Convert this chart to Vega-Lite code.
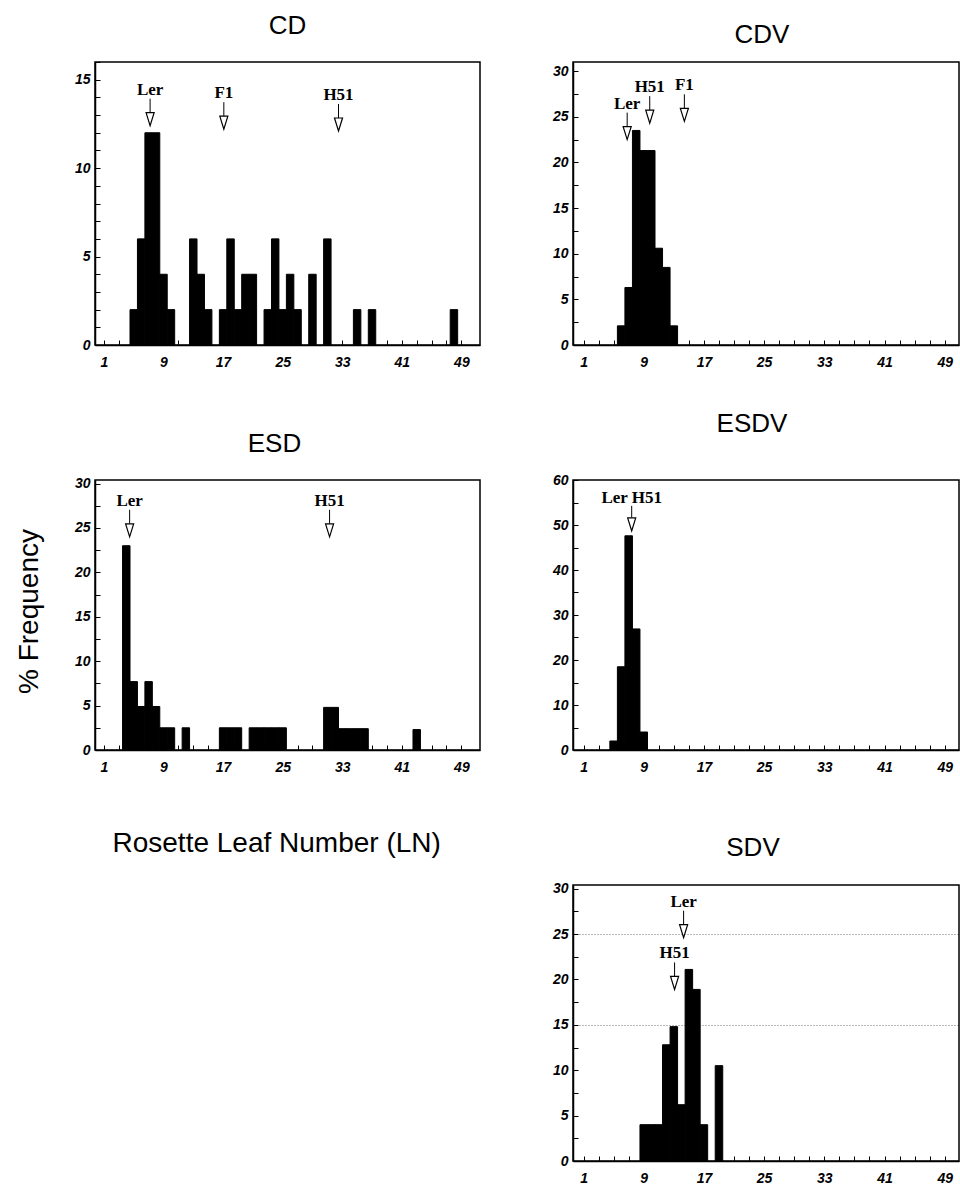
{
  "$schema": "https://vega.github.io/schema/vega-lite/v6.json",
  "padding": {"left": 14, "top": 12, "right": 0, "bottom": 0},
  "background": "white",
  "datasets": {
    "bars": [
      {"panel": "CD", "ln": 4.5, "ln_to": 5.5, "pct": 2},
      {"panel": "CD", "ln": 5.5, "ln_to": 6.5, "pct": 6},
      {"panel": "CD", "ln": 6.5, "ln_to": 7.5, "pct": 12},
      {"panel": "CD", "ln": 7.5, "ln_to": 8.5, "pct": 12},
      {"panel": "CD", "ln": 8.5, "ln_to": 9.5, "pct": 4},
      {"panel": "CD", "ln": 9.5, "ln_to": 10.5, "pct": 2},
      {"panel": "CD", "ln": 12.5, "ln_to": 13.5, "pct": 6},
      {"panel": "CD", "ln": 13.5, "ln_to": 14.5, "pct": 4},
      {"panel": "CD", "ln": 14.5, "ln_to": 15.5, "pct": 2},
      {"panel": "CD", "ln": 16.5, "ln_to": 17.5, "pct": 2},
      {"panel": "CD", "ln": 17.5, "ln_to": 18.5, "pct": 6},
      {"panel": "CD", "ln": 18.5, "ln_to": 19.5, "pct": 2},
      {"panel": "CD", "ln": 19.5, "ln_to": 20.5, "pct": 4},
      {"panel": "CD", "ln": 20.5, "ln_to": 21.5, "pct": 4},
      {"panel": "CD", "ln": 22.5, "ln_to": 23.5, "pct": 2},
      {"panel": "CD", "ln": 23.5, "ln_to": 24.5, "pct": 6},
      {"panel": "CD", "ln": 24.5, "ln_to": 25.5, "pct": 2},
      {"panel": "CD", "ln": 25.5, "ln_to": 26.5, "pct": 4},
      {"panel": "CD", "ln": 26.5, "ln_to": 27.5, "pct": 2},
      {"panel": "CD", "ln": 28.5, "ln_to": 29.5, "pct": 4},
      {"panel": "CD", "ln": 30.5, "ln_to": 31.5, "pct": 6},
      {"panel": "CD", "ln": 34.5, "ln_to": 35.5, "pct": 2},
      {"panel": "CD", "ln": 36.5, "ln_to": 37.5, "pct": 2},
      {"panel": "CD", "ln": 47.5, "ln_to": 48.5, "pct": 2},
      {"panel": "CDV", "ln": 5.5, "ln_to": 6.5, "pct": 2.1},
      {"panel": "CDV", "ln": 6.5, "ln_to": 7.5, "pct": 6.3},
      {"panel": "CDV", "ln": 7.5, "ln_to": 8.5, "pct": 23.5},
      {"panel": "CDV", "ln": 8.5, "ln_to": 9.5, "pct": 21.3},
      {"panel": "CDV", "ln": 9.5, "ln_to": 10.5, "pct": 21.3},
      {"panel": "CDV", "ln": 10.5, "ln_to": 11.5, "pct": 10.6},
      {"panel": "CDV", "ln": 11.5, "ln_to": 12.5, "pct": 8.5},
      {"panel": "CDV", "ln": 12.5, "ln_to": 13.5, "pct": 2.1},
      {"panel": "ESD", "ln": 3.5, "ln_to": 4.5, "pct": 23},
      {"panel": "ESD", "ln": 4.5, "ln_to": 5.5, "pct": 7.7},
      {"panel": "ESD", "ln": 5.5, "ln_to": 6.5, "pct": 4.9},
      {"panel": "ESD", "ln": 6.5, "ln_to": 7.5, "pct": 7.7},
      {"panel": "ESD", "ln": 7.5, "ln_to": 8.5, "pct": 4.9},
      {"panel": "ESD", "ln": 8.5, "ln_to": 9.5, "pct": 2.5},
      {"panel": "ESD", "ln": 9.5, "ln_to": 10.5, "pct": 2.5},
      {"panel": "ESD", "ln": 11.5, "ln_to": 12.5, "pct": 2.5},
      {"panel": "ESD", "ln": 16.5, "ln_to": 17.5, "pct": 2.5},
      {"panel": "ESD", "ln": 17.5, "ln_to": 18.5, "pct": 2.5},
      {"panel": "ESD", "ln": 18.5, "ln_to": 19.5, "pct": 2.5},
      {"panel": "ESD", "ln": 20.5, "ln_to": 21.5, "pct": 2.5},
      {"panel": "ESD", "ln": 21.5, "ln_to": 22.5, "pct": 2.5},
      {"panel": "ESD", "ln": 22.5, "ln_to": 23.5, "pct": 2.5},
      {"panel": "ESD", "ln": 23.5, "ln_to": 24.5, "pct": 2.5},
      {"panel": "ESD", "ln": 24.5, "ln_to": 25.5, "pct": 2.5},
      {"panel": "ESD", "ln": 30.5, "ln_to": 31.5, "pct": 4.8},
      {"panel": "ESD", "ln": 31.5, "ln_to": 32.5, "pct": 4.8},
      {"panel": "ESD", "ln": 32.5, "ln_to": 33.5, "pct": 2.4},
      {"panel": "ESD", "ln": 33.5, "ln_to": 34.5, "pct": 2.4},
      {"panel": "ESD", "ln": 34.5, "ln_to": 35.5, "pct": 2.4},
      {"panel": "ESD", "ln": 35.5, "ln_to": 36.5, "pct": 2.4},
      {"panel": "ESD", "ln": 42.5, "ln_to": 43.5, "pct": 2.3},
      {"panel": "ESDV", "ln": 4.5, "ln_to": 5.5, "pct": 2},
      {"panel": "ESDV", "ln": 5.5, "ln_to": 6.5, "pct": 18.5},
      {"panel": "ESDV", "ln": 6.5, "ln_to": 7.5, "pct": 47.6},
      {"panel": "ESDV", "ln": 7.5, "ln_to": 8.5, "pct": 26.9},
      {"panel": "ESDV", "ln": 8.5, "ln_to": 9.5, "pct": 4},
      {"panel": "SDV", "ln": 8.5, "ln_to": 9.5, "pct": 4},
      {"panel": "SDV", "ln": 9.5, "ln_to": 10.5, "pct": 4},
      {"panel": "SDV", "ln": 10.5, "ln_to": 11.5, "pct": 4},
      {"panel": "SDV", "ln": 11.5, "ln_to": 12.5, "pct": 12.8},
      {"panel": "SDV", "ln": 12.5, "ln_to": 13.5, "pct": 14.8},
      {"panel": "SDV", "ln": 13.5, "ln_to": 14.5, "pct": 6.2},
      {"panel": "SDV", "ln": 14.5, "ln_to": 15.5, "pct": 21.1},
      {"panel": "SDV", "ln": 15.5, "ln_to": 16.5, "pct": 18.9},
      {"panel": "SDV", "ln": 16.5, "ln_to": 17.5, "pct": 4},
      {"panel": "SDV", "ln": 18.5, "ln_to": 19.5, "pct": 10.5}
    ],
    "arrows": [
      {"panel": "CD", "label": "Ler", "ln": 7.2, "pct": 12.4},
      {"panel": "CD", "label": "F1", "ln": 17.1, "pct": 12.2},
      {"panel": "CD", "label": "H51", "ln": 32.5, "pct": 12.1},
      {"panel": "CDV", "label": "Ler", "ln": 6.8, "pct": 22.5},
      {"panel": "CDV", "label": "H51", "ln": 9.8, "pct": 24.3},
      {"panel": "CDV", "label": "F1", "ln": 14.4, "pct": 24.5},
      {"panel": "ESD", "label": "Ler", "ln": 4.45, "pct": 24},
      {"panel": "ESD", "label": "H51", "ln": 31.3, "pct": 24},
      {"panel": "ESDV", "label": "Ler H51", "ln": 7.4, "pct": 48.7},
      {"panel": "SDV", "label": "Ler", "ln": 14.3, "pct": 24.6},
      {"panel": "SDV", "label": "H51", "ln": 13.1, "pct": 18.9}
    ]
  },
  "columns": 2,
  "bounds": "flush",
  "align": "each",
  "spacing": {"row": 135, "column": 93},
  "concat": [
    {
      "width": 385, "height": 283,
      "title": {"text": "CD", "offset": 16, "dx": 0},
      "encoding": {
        "x": {"field": "ln", "type": "quantitative", "scale": {"domain": [-0.2, 51.5], "nice": false, "zero": false},
              "axis": {"title": null, "values": [1,3,5,7,9,11,13,15,17,19,21,23,25,27,29,31,33,35,37,39,41,43,45,47,49], "labelExpr": "(datum.value - 1) % 8 === 0 ? datum.label : ''"}},
        "y": {"field": "pct", "type": "quantitative", "scale": {"domain": [0, 16], "nice": false},
              "axis": {"title": null, "values": [0,1,2,3,4,5,6,7,8,9,10,11,12,13,14,15,16], "labelExpr": "datum.value % 5 === 0 ? datum.label : ''"}}
      },
      "layer": [
        {
          "data": {"name": "bars"},
          "transform": [{"filter": "datum.panel === 'CD'"}],
          "mark": {"type": "bar", "color": "black", "stroke": "black", "strokeWidth": 1},
          "encoding": {"x2": {"field": "ln_to"}, "y2": {"datum": 0}}
        },
        {
          "data": {"name": "arrows"},
          "transform": [{"filter": "datum.panel === 'CD'"}],
          "mark": {"type": "rule", "color": "black", "strokeWidth": 1, "yOffset": -13, "y2Offset": -27},
          "encoding": {"y2": {"field": "pct"}}
        },
        {
          "data": {"name": "arrows"},
          "transform": [{"filter": "datum.panel === 'CD'"}],
          "mark": {"type": "point", "shape": "M-0.62,-1L0.62,-1L0,1Z", "size": 169, "filled": true, "fill": "white", "stroke": "black", "strokeWidth": 1.2, "opacity": 1, "yOffset": -6.5},
          "encoding": {}
        },
        {
          "data": {"name": "arrows"},
          "transform": [{"filter": "datum.panel === 'CD'"}],
          "mark": {"type": "text", "font": "Liberation Serif", "fontSize": 17, "fontWeight": "bold", "color": "black", "baseline": "alphabetic", "align": "center", "yOffset": -31},
          "encoding": {"text": {"field": "label"}}
        }
      ]
    },
    {
      "width": 386, "height": 283,
      "title": {"text": "CDV", "offset": 14, "dx": -4},
      "encoding": {
        "x": {"field": "ln", "type": "quantitative", "scale": {"domain": [-0.4, 50.9], "nice": false, "zero": false},
              "axis": {"title": null, "values": [1,3,5,7,9,11,13,15,17,19,21,23,25,27,29,31,33,35,37,39,41,43,45,47,49], "labelExpr": "(datum.value - 1) % 8 === 0 ? datum.label : ''"}},
        "y": {"field": "pct", "type": "quantitative", "scale": {"domain": [0, 31], "nice": false},
              "axis": {"title": null, "values": [0,2.5,5,7.5,10,12.5,15,17.5,20,22.5,25,27.5,30], "labelExpr": "datum.value % 5 === 0 ? datum.label : ''"}}
      },
      "layer": [
        {
          "data": {"name": "bars"},
          "transform": [{"filter": "datum.panel === 'CDV'"}],
          "mark": {"type": "bar", "color": "black", "stroke": "black", "strokeWidth": 1},
          "encoding": {"x2": {"field": "ln_to"}, "y2": {"datum": 0}}
        },
        {
          "data": {"name": "arrows"},
          "transform": [{"filter": "datum.panel === 'CDV'"}],
          "mark": {"type": "rule", "color": "black", "strokeWidth": 1, "yOffset": -13, "y2Offset": -27},
          "encoding": {"y2": {"field": "pct"}}
        },
        {
          "data": {"name": "arrows"},
          "transform": [{"filter": "datum.panel === 'CDV'"}],
          "mark": {"type": "point", "shape": "M-0.62,-1L0.62,-1L0,1Z", "size": 169, "filled": true, "fill": "white", "stroke": "black", "strokeWidth": 1.2, "opacity": 1, "yOffset": -6.5},
          "encoding": {}
        },
        {
          "data": {"name": "arrows"},
          "transform": [{"filter": "datum.panel === 'CDV'"}],
          "mark": {"type": "text", "font": "Liberation Serif", "fontSize": 17, "fontWeight": "bold", "color": "black", "baseline": "alphabetic", "align": "center", "yOffset": -31},
          "encoding": {"text": {"field": "label"}}
        }
      ]
    },
    {
      "width": 385, "height": 270,
      "title": {"text": "ESD", "offset": 20, "dx": -13},
      "encoding": {
        "x": {"field": "ln", "type": "quantitative", "scale": {"domain": [-0.2, 51.5], "nice": false, "zero": false},
              "axis": {"title": "Rosette Leaf Number (LN)", "titleFont": "Liberation Sans", "titleFontSize": 28, "titleFontWeight": "normal", "titleColor": "black", "titleAlign": "left", "titleAnchor": "start", "titleBaseline": "alphabetic", "titleX": 17, "titleY": 101,
                       "values": [1,3,5,7,9,11,13,15,17,19,21,23,25,27,29,31,33,35,37,39,41,43,45,47,49], "labelExpr": "(datum.value - 1) % 8 === 0 ? datum.label : ''"}},
        "y": {"field": "pct", "type": "quantitative", "scale": {"domain": [0, 30.4], "nice": false},
              "axis": {"title": "% Frequency", "titleFont": "Liberation Sans", "titleFontSize": 28, "titleFontWeight": "normal", "titleColor": "black", "titleAngle": -90, "titleAlign": "center", "titleBaseline": "alphabetic", "titleX": -58, "titleY": 131,
                       "values": [0,2.5,5,7.5,10,12.5,15,17.5,20,22.5,25,27.5,30], "labelExpr": "datum.value % 5 === 0 ? datum.label : ''"}}
      },
      "layer": [
        {
          "data": {"name": "bars"},
          "transform": [{"filter": "datum.panel === 'ESD'"}],
          "mark": {"type": "bar", "color": "black", "stroke": "black", "strokeWidth": 1},
          "encoding": {"x2": {"field": "ln_to"}, "y2": {"datum": 0}}
        },
        {
          "data": {"name": "arrows"},
          "transform": [{"filter": "datum.panel === 'ESD'"}],
          "mark": {"type": "rule", "color": "black", "strokeWidth": 1, "yOffset": -13, "y2Offset": -27},
          "encoding": {"y2": {"field": "pct"}}
        },
        {
          "data": {"name": "arrows"},
          "transform": [{"filter": "datum.panel === 'ESD'"}],
          "mark": {"type": "point", "shape": "M-0.62,-1L0.62,-1L0,1Z", "size": 169, "filled": true, "fill": "white", "stroke": "black", "strokeWidth": 1.2, "opacity": 1, "yOffset": -6.5},
          "encoding": {}
        },
        {
          "data": {"name": "arrows"},
          "transform": [{"filter": "datum.panel === 'ESD'"}],
          "mark": {"type": "text", "font": "Liberation Serif", "fontSize": 17, "fontWeight": "bold", "color": "black", "baseline": "alphabetic", "align": "center", "yOffset": -31},
          "encoding": {"text": {"field": "label"}}
        }
      ]
    },
    {
      "width": 386, "height": 270,
      "title": {"text": "ESDV", "offset": 36, "dx": -14},
      "encoding": {
        "x": {"field": "ln", "type": "quantitative", "scale": {"domain": [-0.4, 50.9], "nice": false, "zero": false},
              "axis": {"title": null, "values": [1,3,5,7,9,11,13,15,17,19,21,23,25,27,29,31,33,35,37,39,41,43,45,47,49], "labelExpr": "(datum.value - 1) % 8 === 0 ? datum.label : ''"}},
        "y": {"field": "pct", "type": "quantitative", "scale": {"domain": [0, 60], "nice": false},
              "axis": {"title": null, "values": [0,5,10,15,20,25,30,35,40,45,50,55,60], "labelExpr": "datum.value % 10 === 0 ? datum.label : ''"}}
      },
      "layer": [
        {
          "data": {"name": "bars"},
          "transform": [{"filter": "datum.panel === 'ESDV'"}],
          "mark": {"type": "bar", "color": "black", "stroke": "black", "strokeWidth": 1},
          "encoding": {"x2": {"field": "ln_to"}, "y2": {"datum": 0}}
        },
        {
          "data": {"name": "arrows"},
          "transform": [{"filter": "datum.panel === 'ESDV'"}],
          "mark": {"type": "rule", "color": "black", "strokeWidth": 1, "yOffset": -13, "y2Offset": -25},
          "encoding": {"y2": {"field": "pct"}}
        },
        {
          "data": {"name": "arrows"},
          "transform": [{"filter": "datum.panel === 'ESDV'"}],
          "mark": {"type": "point", "shape": "M-0.62,-1L0.62,-1L0,1Z", "size": 169, "filled": true, "fill": "white", "stroke": "black", "strokeWidth": 1.2, "opacity": 1, "yOffset": -6.5},
          "encoding": {}
        },
        {
          "data": {"name": "arrows"},
          "transform": [{"filter": "datum.panel === 'ESDV'"}],
          "mark": {"type": "text", "font": "Liberation Serif", "fontSize": 17, "fontWeight": "bold", "color": "black", "baseline": "alphabetic", "align": "center", "yOffset": -28},
          "encoding": {"text": {"field": "label"}}
        }
      ]
    },
    {
      "width": 385, "height": 276,
      "view": {"stroke": null},
      "data": {"values": [{"blank": ""}]},
      "mark": {"type": "text", "opacity": 0},
      "encoding": {"text": {"field": "blank"}}
    },
    {
      "width": 386, "height": 276,
      "title": {"text": "SDV", "offset": 21, "dx": -13},
      "encoding": {
        "x": {"field": "ln", "type": "quantitative", "scale": {"domain": [-0.4, 50.9], "nice": false, "zero": false},
              "axis": {"title": null, "values": [1,3,5,7,9,11,13,15,17,19,21,23,25,27,29,31,33,35,37,39,41,43,45,47,49], "labelExpr": "(datum.value - 1) % 8 === 0 ? datum.label : ''"}},
        "y": {"field": "pct", "type": "quantitative", "scale": {"domain": [0, 30.4], "nice": false},
              "axis": {"title": null, "values": [0,2.5,5,7.5,10,12.5,15,17.5,20,22.5,25,27.5,30], "labelExpr": "datum.value % 5 === 0 ? datum.label : ''",
                       "grid": true, "gridColor": "black", "gridDash": [1, 2], "gridWidth": 1,
                       "gridOpacity": {"condition": {"test": "datum.value === 15 || datum.value === 25", "value": 0.55}, "value": 0}}}
      },
      "layer": [
        {
          "data": {"name": "bars"},
          "transform": [{"filter": "datum.panel === 'SDV'"}],
          "mark": {"type": "bar", "color": "black", "stroke": "black", "strokeWidth": 1},
          "encoding": {"x2": {"field": "ln_to"}, "y2": {"datum": 0}}
        },
        {
          "data": {"name": "arrows"},
          "transform": [{"filter": "datum.panel === 'SDV'"}],
          "mark": {"type": "rule", "color": "black", "strokeWidth": 1, "yOffset": -13, "y2Offset": -27},
          "encoding": {"y2": {"field": "pct"}}
        },
        {
          "data": {"name": "arrows"},
          "transform": [{"filter": "datum.panel === 'SDV'"}],
          "mark": {"type": "point", "shape": "M-0.62,-1L0.62,-1L0,1Z", "size": 169, "filled": true, "fill": "white", "stroke": "black", "strokeWidth": 1.2, "opacity": 1, "yOffset": -6.5},
          "encoding": {}
        },
        {
          "data": {"name": "arrows"},
          "transform": [{"filter": "datum.panel === 'SDV'"}],
          "mark": {"type": "text", "font": "Liberation Serif", "fontSize": 17, "fontWeight": "bold", "color": "black", "baseline": "alphabetic", "align": "center", "yOffset": -31},
          "encoding": {"text": {"field": "label"}}
        }
      ]
    }
  ],
  "config": {
    "font": "Liberation Sans",
    "view": {"stroke": "black", "strokeWidth": 1.5},
    "title": {"font": "Liberation Sans", "fontSize": 26, "fontWeight": "normal", "color": "black", "baseline": "alphabetic", "frame": "group", "anchor": "middle"},
    "axis": {
      "domain": true, "domainColor": "black", "domainWidth": 1.5,
      "ticks": true, "tickColor": "black", "tickWidth": 1, "tickSize": -5,
      "labelFont": "Liberation Sans", "labelFontSize": 14, "labelFontWeight": "bold", "labelFontStyle": "italic", "labelColor": "black",
      "labelOverlap": false, "labelFlush": false, "grid": false
    },
    "axisX": {"labelPadding": 15},
    "axisY": {"labelPadding": 10}
  }
}
